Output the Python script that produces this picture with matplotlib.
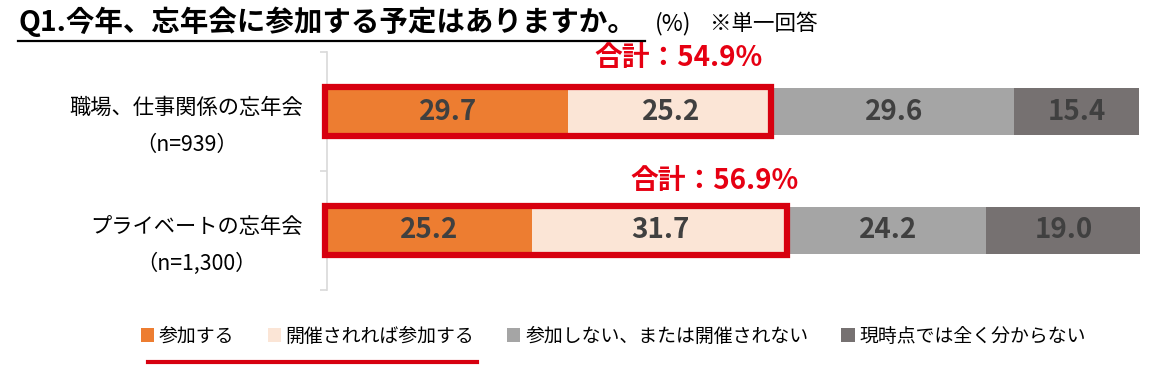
import matplotlib.pyplot as plt
from matplotlib.patches import Rectangle, Patch
from matplotlib.lines import Line2D

plt.rcParams['font.family'] = ['Noto Sans CJK JP', 'DejaVu Sans']

categories = ['職場、仕事関係の忘年会\n（n=939）', 'プライベートの忘年会\n（n=1,300）']
series_names = ['参加する', '開催されれば参加する', '参加しない、または開催されない', '現時点では全く分からない']
values = [
    [29.7, 25.2, 29.6, 15.4],
    [25.2, 31.7, 24.2, 19.0],
]
totals = ['合計：54.9%', '合計：56.9%']
colors = ['#ED7D31', '#FBE5D6', '#A5A5A5', '#767171']

fig = plt.figure(figsize=(11.68, 3.76), dpi=100)
ax = fig.add_axes([327 / 1168, 1 - 290 / 376, 813 / 1168, 238 / 376])

ypos = [1.5, 0.5]
h = 0.395
for row, y in zip(values, ypos):
    left = 0
    for v, c in zip(row, colors):
        ax.barh(y, v, left=left, height=h, color=c, edgecolor='none')
        ax.text(left + v / 2, y, f'{v:.1f}', ha='center', va='center',
                fontsize=20, fontweight='bold', color='#404040')
        left += v

# red box round the two "participate" segments + total label
label_dx = [-11.6, -9.2]
label_dy = [0.45, 0.42]
for row, y, t, dx, dy in zip(values, ypos, totals, label_dx, label_dy):
    s = row[0] + row[1]
    ax.add_patch(Rectangle((-0.3, y - 0.207), s, 0.414, fill=False,
                           edgecolor='#D7000F', linewidth=4.5, zorder=5,
                           clip_on=False))
    ax.text(s + dx, y + dy, t, ha='center', va='center', fontsize=20,
            fontweight='bold', color='#E60012')

ax.set_xlim(0, 100)
ax.set_ylim(0, 2)
ax.set_xticks([])
ax.set_yticks([0, 1, 2])
ax.set_yticklabels([])
ax.tick_params(axis='y', length=5, color='#D9D9D9', width=1.2)
for sp in ['top', 'right', 'bottom']:
    ax.spines[sp].set_visible(False)
ax.spines['left'].set_color('#D9D9D9')
ax.spines['left'].set_linewidth(1.2)

for cat, y in zip(categories, ypos):
    ax.text(-2.95, y - 0.124, cat, ha='right', va='center', multialignment='center',
            fontsize=15.3, linespacing=1.85, transform=ax.transData)

# title
fig.text(18 / 1168, 1 - 22 / 376, 'Q1.今年、忘年会に参加する予定はありますか。',
         ha='left', va='center', fontsize=20.5, fontweight='bold')
fig.add_artist(Line2D([18 / 1168, 645 / 1168], [1 - 41 / 376, 1 - 41 / 376],
                      color='black', linewidth=1.6))
fig.text(655 / 1168, 1 - 24 / 376, '(%)', ha='left', va='center', fontsize=16.5)
fig.text(710 / 1168, 1 - 24 / 376, '※単一回答', ha='left', va='center', fontsize=15.5)

# legend
handles = [Patch(facecolor=c, edgecolor='none') for c in colors]
fig.legend(handles, series_names, loc='center left',
           bbox_to_anchor=(124 / 1168, 1 - 336 / 376), ncol=4, frameon=False,
           fontsize=13.6, handlelength=0.7, handleheight=0.7,
           handletextpad=0.25, columnspacing=1.75)
fig.add_artist(Line2D([148 / 1168, 477 / 1168], [1 - 362 / 376, 1 - 362 / 376],
                      color='#D7000F', linewidth=3))

fig.savefig('out.png', dpi=100)
